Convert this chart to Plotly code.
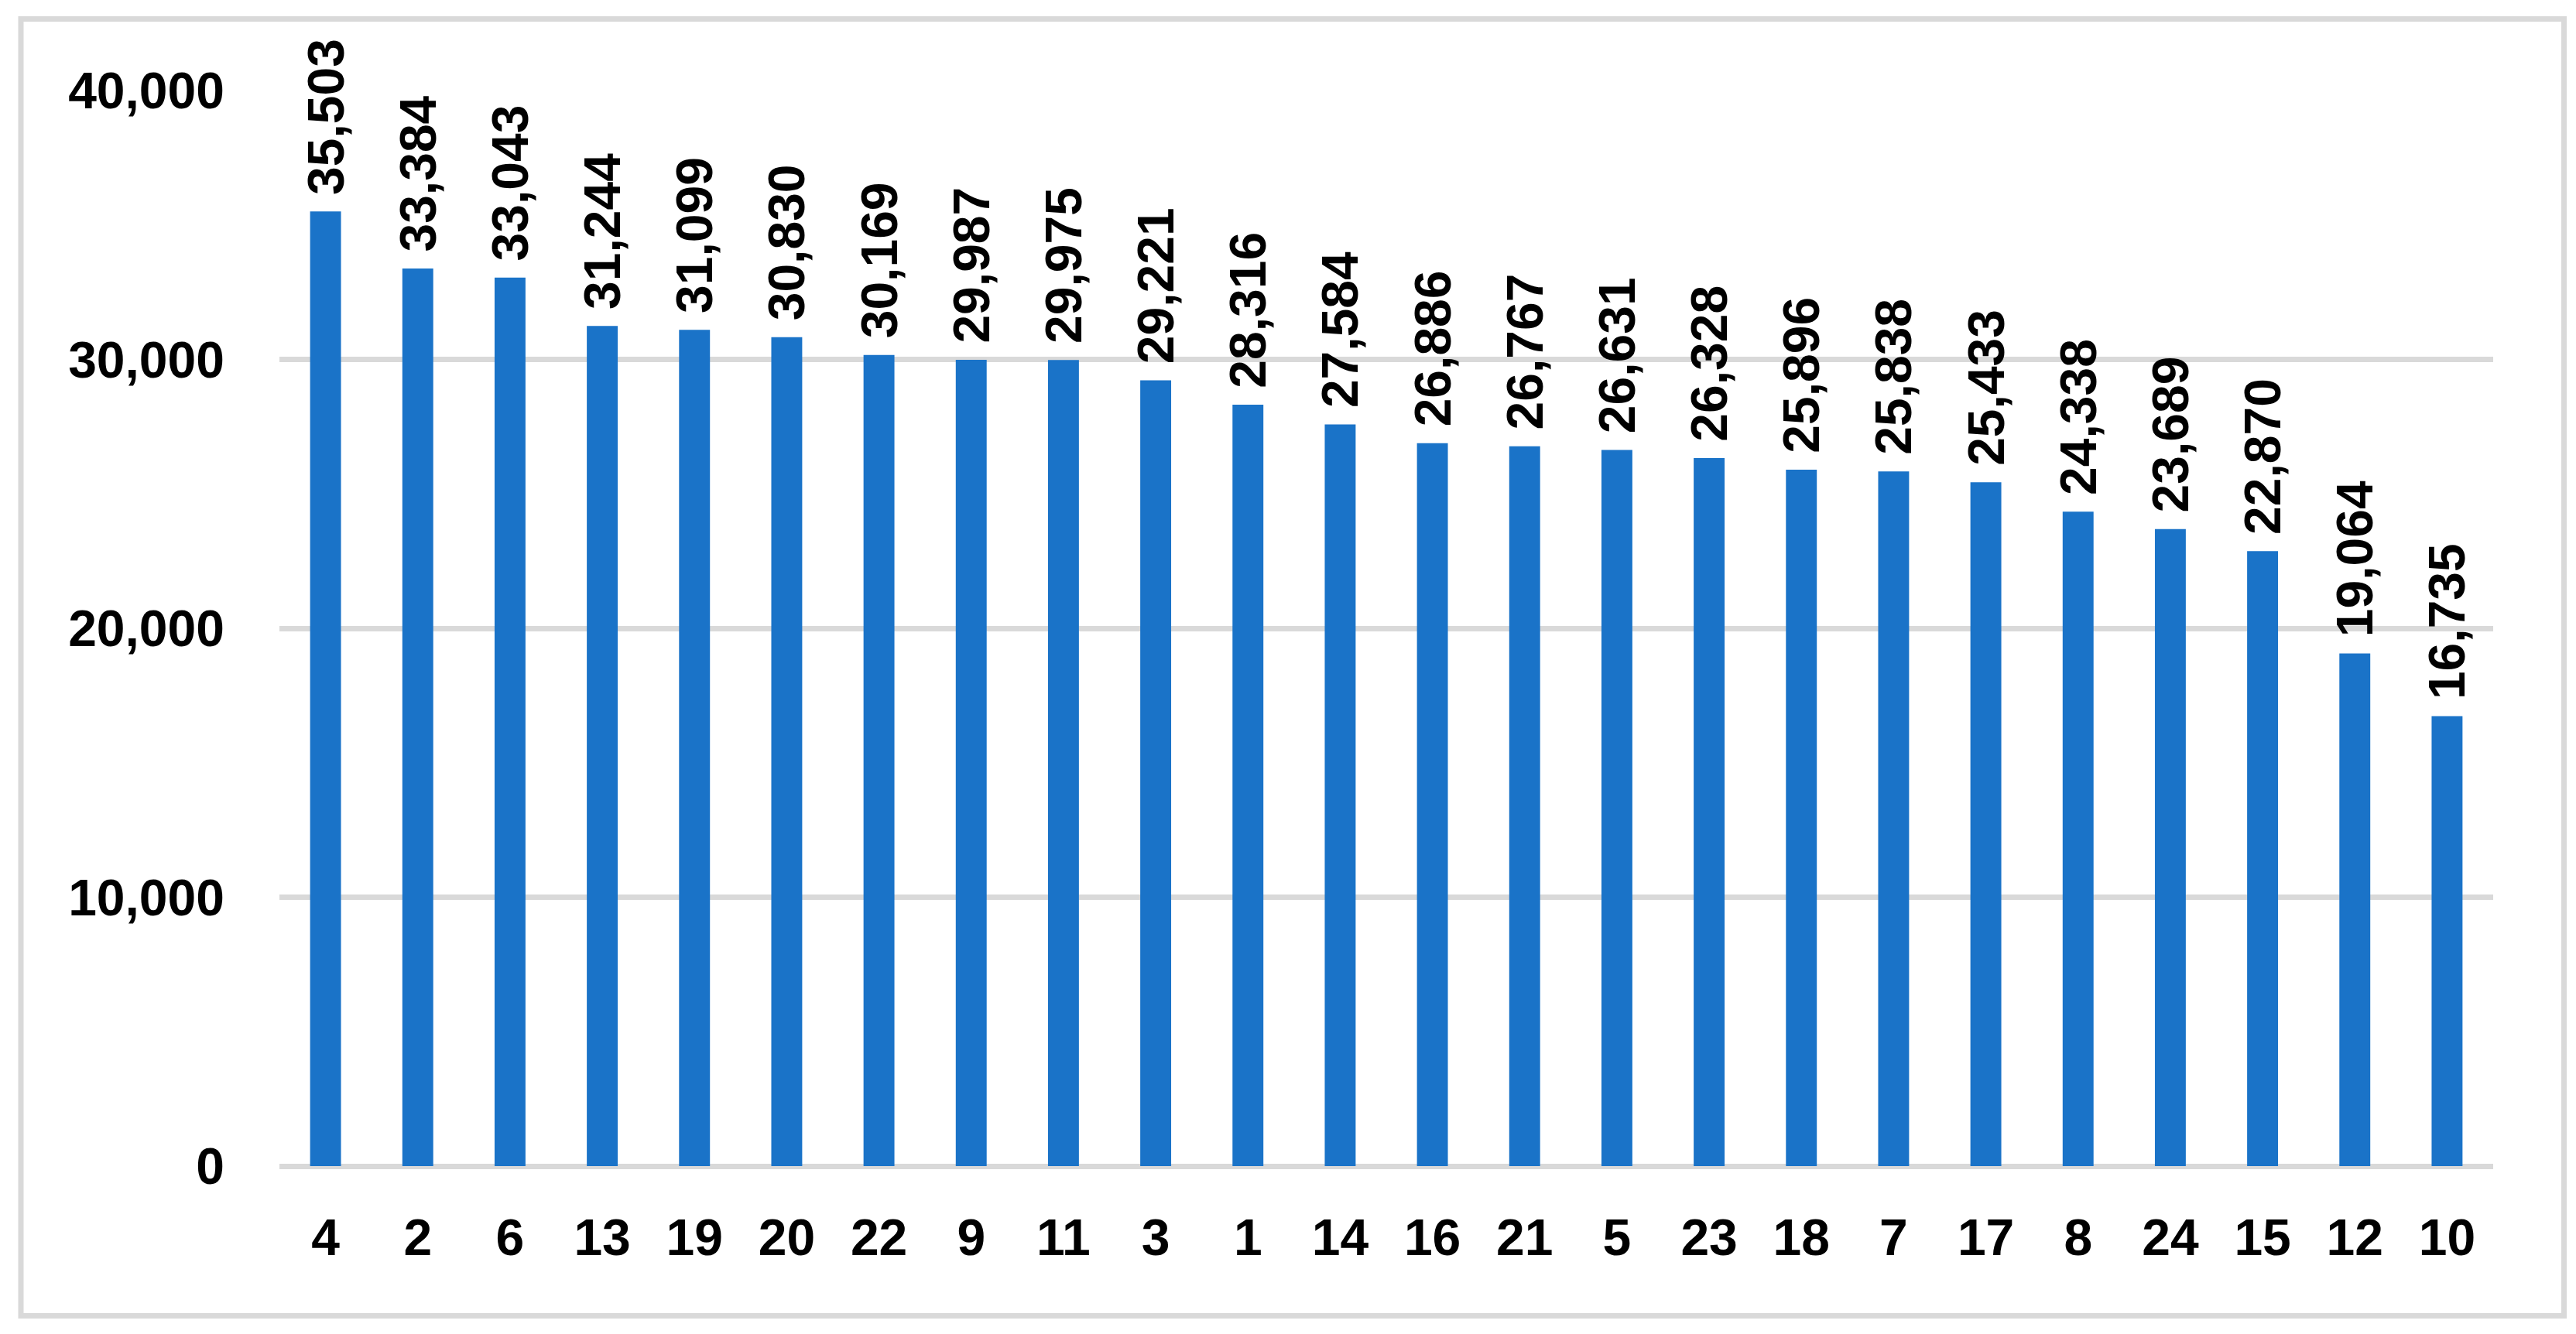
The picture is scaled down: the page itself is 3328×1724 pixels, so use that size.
import plotly.graph_objects as go

categories = ["4", "2", "6", "13", "19", "20", "22", "9", "11", "3", "1", "14",
              "16", "21", "5", "23", "18", "7", "17", "8", "24", "15", "12", "10"]
values = [35503, 33384, 33043, 31244, 31099, 30830, 30169, 29987, 29975, 29221,
          28316, 27584, 26886, 26767, 26631, 26328, 25896, 25838, 25433, 24338,
          23689, 22870, 19064, 16735]
y_ticks = [0, 10000, 20000, 30000, 40000]

W, H = 3328, 1724
L, R, T, B = 361, 3221, 117, 1507
pw, ph = R - L, B - T

FONT = "Liberation Sans, Arial, sans-serif"
BAR = "#1A73C8"
GRID = "#D9D9D9"

fig = go.Figure(go.Bar(
    x=categories, y=values,
    marker=dict(color=BAR, line=dict(width=0)),
    width=0.335,
    texttemplate="\u00a0%{y:,}",
    textposition="outside",
    textangle=-90,
    constraintext="none",
    cliponaxis=False,
    textfont=dict(family=FONT, size=66, color="black", weight="bold"),
))

def px(xp):
    return (xp - L) / pw

def py(yp):
    return (B - yp) / ph

fig.add_shape(type="rect", xref="paper", yref="paper",
              x0=px(27), x1=px(3312.5), y0=py(1700.5), y1=py(24.5),
              line=dict(color=GRID, width=7), fillcolor="rgba(0,0,0,0)",
              layer="below")

fig.update_layout(
    width=W, height=H,
    margin=dict(l=L, r=W - R, t=T, b=H - B, pad=0),
    paper_bgcolor="white", plot_bgcolor="white",
    showlegend=False,
    font=dict(family=FONT, color="black"),
    xaxis=dict(type="category", showgrid=False, zeroline=False, showline=False,
               ticks="", ticklabelstandoff=48,
               tickfont=dict(family=FONT, size=66, color="black", weight="bold")),
    yaxis=dict(range=[0, 40000], tickvals=y_ticks, tickformat=",",
               showgrid=True, gridcolor=GRID, gridwidth=7,
               zeroline=True, zerolinecolor=GRID, zerolinewidth=7,
               showline=False, ticks="", ticklabelstandoff=70,
               tickfont=dict(family=FONT, size=66, color="black", weight="bold")),
)

fig.write_html("out.html", config={"displayModeBar": False},
               post_script="document.body.style.margin='0';document.body.style.overflow='hidden';")
